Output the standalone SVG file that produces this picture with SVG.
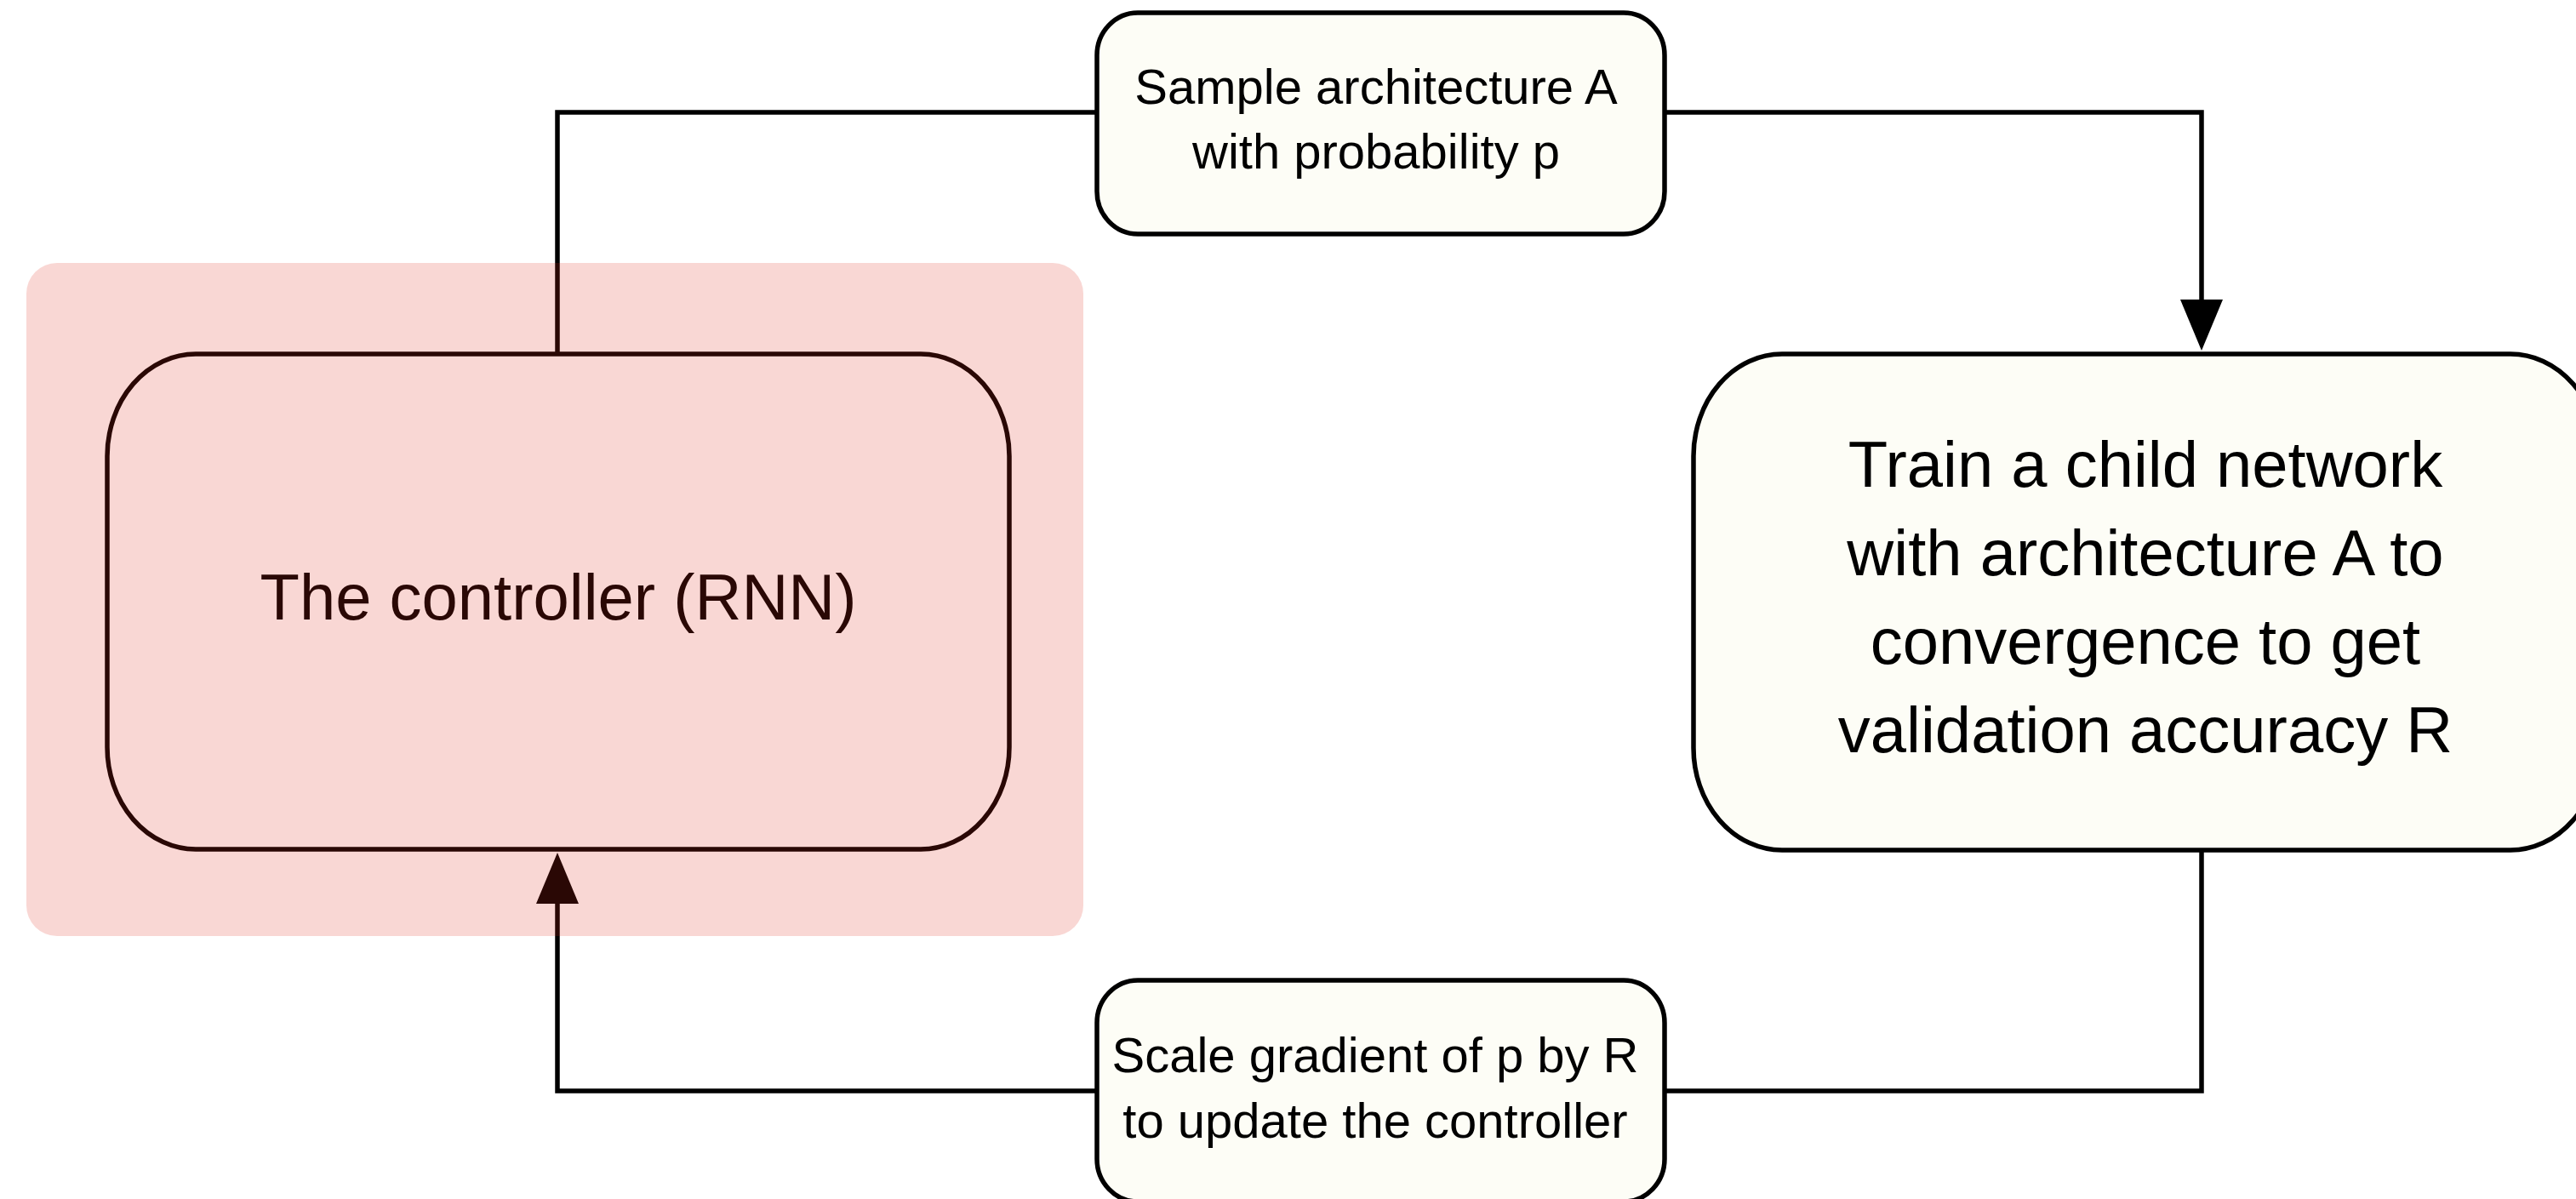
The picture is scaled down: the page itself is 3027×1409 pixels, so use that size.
<svg xmlns="http://www.w3.org/2000/svg" width="3027" height="1409" viewBox="0 0 3027 1409">
  <defs>
    <style>
      .box { fill: #fdfdf6; stroke: #000; stroke-width: 5.5; }
      .wire { fill: none; stroke: #000; stroke-width: 5.5; stroke-linejoin: miter; }
      .lbl { font-family: "Liberation Sans", Arial, Helvetica, sans-serif; fill: #000; text-anchor: middle; }
      .big { font-size: 76px; }
      .small { font-size: 58px; }
    </style>
    <marker id="arrow" markerUnits="userSpaceOnUse" markerWidth="62" markerHeight="52" refX="0" refY="25" orient="auto" overflow="visible">
      <path d="M0,0 L60,25 L0,50 Z" fill="#000"/>
    </marker>
  </defs>

  <rect width="3027" height="1409" fill="#fff"/>

  <!-- connectors of the search loop -->
  <g id="connectors">
    <path class="wire" d="M655,416 V132 H1290"/>
    <path class="wire" d="M1956,132 H2587 V352" marker-end="url(#arrow)"/>
    <path class="wire" d="M2587,998 V1282 H1956"/>
    <path class="wire" d="M1290,1282 H655 V1062" marker-end="url(#arrow)"/>
  </g>

  <g id="controller">
    <rect class="box" x="126" y="416" width="1060" height="582" rx="104" ry="120" style="fill:#fff"/>
    <text class="lbl big" x="656" y="728">The controller (RNN)</text>
  </g>

  <g id="sample">
    <rect class="box" x="1289" y="15" width="667" height="260" rx="48" ry="50"/>
    <text class="lbl small" x="1617" y="122">Sample architecture A</text>
    <text class="lbl small" x="1617" y="198">with probability p</text>
  </g>

  <g id="child">
    <rect class="box" x="1990" y="416" width="1064" height="583" rx="104" ry="120"/>
    <text class="lbl big" x="2521" y="572">Train a child network</text>
    <text class="lbl big" x="2521" y="676">with architecture A to</text>
    <text class="lbl big" x="2521" y="780">convergence to get</text>
    <text class="lbl big" x="2521" y="884">validation accuracy R</text>
  </g>

  <g id="update">
    <rect class="box" x="1289" y="1152" width="667" height="260" rx="48" ry="50"/>
    <text class="lbl small" x="1616" y="1260">Scale gradient of p by R</text>
    <text class="lbl small" x="1616" y="1337">to update the controller</text>
  </g>

  <!-- translucent red highlight laid over the controller -->
  <g id="highlight">
    <rect x="31" y="309" width="1242" height="791" rx="36" ry="36" fill="rgb(224,40,26)" fill-opacity="0.19"/>
  </g>
</svg>
